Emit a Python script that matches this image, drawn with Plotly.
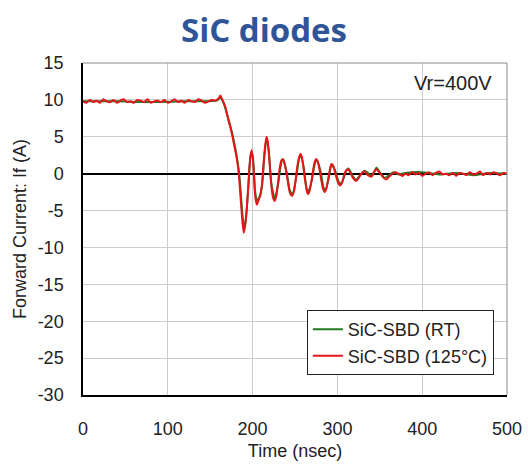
import plotly.graph_objects as go

# ---------------- data ----------------
# Pre-transient flat region, sampled every 4 ns (0..156 ns)
pre_t = list(range(0, 160, 4))
pre_red = [9.8, 9.6, 10.0, 9.7, 9.9, 9.6, 10.1, 9.8, 9.7, 10.0,
           9.6, 9.9, 10.1, 9.7, 9.8, 9.6, 10.0, 9.9, 9.7, 10.1,
           9.6, 9.8, 9.9, 9.7, 10.0, 9.6, 9.8, 10.1, 9.7, 9.9,
           9.6, 10.0, 9.8, 9.7, 10.1, 9.9, 9.6, 9.8, 10.0, 9.9]

# Transient / ringing region (125 degC trace)
osc_t = [160, 162, 164, 166, 168, 170, 172, 174, 176, 178, 180, 182, 184, 186, 188, 189.5,
         191, 193, 195, 197, 199, 201, 203, 205, 207, 209, 211, 213, 215, 216.5, 218, 220,
         222, 224, 226, 228, 230, 232, 234, 236, 238, 240, 242, 244, 246.5, 249, 251, 253,
         255, 256.5, 258, 260, 262, 264, 265.5, 267, 269, 271, 273, 275, 277, 279, 281, 283,
         285, 287, 289, 291, 293, 295, 297, 299, 301, 303.5, 306, 308, 310, 312.5, 315, 318,
         322, 325, 328, 332, 336, 340, 343, 346, 350, 354, 357.5, 361, 365, 369, 373, 377]
osc_red = [10.2, 10.6, 10.1, 9.6, 9.0, 8.0, 7.0, 6.2, 5.2, 4.0, 2.9, 1.6, -0.4, -3.5, -6.5, -8.0,
           -7.2, -5.0, -1.5, 1.8, 3.2, 1.0, -3.0, -4.2, -3.6, -3.0, -1.5, 1.5, 4.0, 5.0, 4.2, 1.5,
           -1.5, -3.2, -3.7, -3.0, -1.2, 0.8, 1.8, 1.9, 1.2, 0.0, -1.4, -2.6, -3.0, -2.3, -0.6, 1.2,
           2.3, 2.7, 2.3, 0.8, -1.0, -2.4, -2.8, -2.4, -1.3, 0.2, 1.5, 2.0, 1.6, 0.5, -0.9, -2.0,
           -2.5, -2.0, -0.8, 0.5, 1.3, 1.1, 0.3, -0.6, -1.3, -1.6, -1.0, -0.2, 0.4, 0.6, 0.2, -0.5,
           -1.0, -0.6, 0.0, 0.3, -0.2, -0.4, 0.2, 0.6, 0.1, -0.5, -0.8, -0.4, 0.0, 0.2, -0.1, -0.3]

# Settled tail, sampled every 4 ns (380..500 ns)
tail_t = list(range(380, 504, 4))
tail_red = [0.0, -0.2, 0.2, -0.1, 0.1, -0.3, 0.0, 0.2, -0.2, 0.1, 0.3, -0.1, 0.0, -0.2, 0.1, -0.3,
            0.1, 0.0, -0.2, 0.2, -0.1, 0.0, 0.3, -0.2, 0.1, -0.1, 0.2, 0.0, -0.2, 0.1, 0.0]

# Room temperature trace (mostly hidden under the red one)
rt_t = [0, 40, 80, 120, 158, 162, 166, 170, 176, 180, 184, 188, 190, 192, 195, 198, 200, 203,
        205, 208, 211, 214, 216.5, 219, 222, 226, 230, 234, 236, 240, 244, 247, 251, 255, 257,
        260, 264, 266, 270, 274, 276, 280, 284, 286, 290, 293, 297, 302, 305, 310, 313, 318,
        322, 327, 332, 338, 341, 346, 350, 356, 360, 366, 372, 380, 400, 420, 440, 460, 480, 500]
rt_if = [9.8, 9.8, 9.7, 9.8, 9.9, 10.3, 9.5, 8.0, 5.4, 3.2, 0.2, -5.5, -7.5, -6.2, -1.8, 2.9,
         2.5, -2.4, -3.6, -3.2, -1.8, 2.5, 4.8, 3.2, -1.2, -3.4, -1.5, 1.6, 2.0, 0.3, -2.3, -2.8,
         -0.8, 2.1, 2.5, 1.0, -2.1, -2.4, -0.8, 1.6, 1.8, 0.4, -2.0, -2.2, -0.5, 1.2, 0.5, -1.2,
         -1.3, 0.3, 0.7, -0.3, -0.8, -0.2, 0.4, -0.1, -0.3, 0.8, 0.2, -0.6, -0.3, 0.2, -0.1, 0.1,
         0.2, -0.1, 0.1, -0.2, 0.1, 0.0]

red_t = pre_t + osc_t + tail_t
red_if = pre_red + osc_red + tail_red

x_ticks = [0, 100, 200, 300, 400, 500]
y_ticks = [15, 10, 5, 0, -5, -10, -15, -20, -25, -30]

# ---------------- figure ----------------
SANS = "Liberation Sans, Arial, sans-serif"
TXT = "#222222"

fig = go.Figure()
fig.add_trace(go.Scatter(x=rt_t, y=rt_if, mode="lines", name="SiC-SBD (RT)",
                         line=dict(color="#1f7a1f", width=2, shape="spline", smoothing=0.6)))
fig.add_trace(go.Scatter(x=red_t, y=red_if, mode="lines", name="SiC-SBD (125\u00b0C)",
                         line=dict(color="#e8141c", width=2, shape="spline", smoothing=0.6)))

fig.update_layout(
    width=528, height=465,
    margin=dict(l=83, r=21, t=63, b=70, autoexpand=False),
    paper_bgcolor="white", plot_bgcolor="white",
    title=dict(text="<b>SiC diodes</b>", x=0.5, xanchor="center", y=0.935, yanchor="middle",
               font=dict(family="Open Sans, sans-serif", size=33, color="#2f5597")),
    font=dict(family=SANS, color=TXT),
    showlegend=True,
    legend=dict(x=0.969, xanchor="right", y=0.06, yanchor="bottom",
                bgcolor="white", bordercolor="#222222", borderwidth=1,
                font=dict(family=SANS, size=18, color=TXT),
                itemwidth=30, tracegroupgap=2),
    annotations=[dict(text="Vr=400V", x=0.97, xref="paper", xanchor="right",
                      y=0.94, yref="paper", yanchor="middle", showarrow=False,
                      font=dict(family=SANS, size=20, color=TXT))],
    shapes=[
        dict(type="line", xref="paper", yref="paper", x0=0, x1=1, y0=1, y1=1,
             line=dict(color="#8a8a8a", width=1)),
        dict(type="line", xref="paper", yref="paper", x0=1, x1=1, y0=0, y1=1,
             line=dict(color="#8a8a8a", width=1)),
    ],
)
fig.update_xaxes(range=[0, 500], tickvals=x_ticks, ticktext=[str(v) for v in x_ticks],
                 showgrid=True, gridcolor="#cccccc", gridwidth=1,
                 showline=True, linecolor="black", linewidth=1.5,
                 zeroline=False, ticks="", ticklabelstandoff=17, automargin=False,
                 tickfont=dict(family=SANS, size=18, color=TXT),
                 title=dict(text="Time (nsec)", standoff=6,
                            font=dict(family=SANS, size=18, color=TXT)))
fig.update_yaxes(range=[-30, 15], tickvals=y_ticks, ticktext=[str(v) for v in y_ticks],
                 showgrid=True, gridcolor="#cccccc", gridwidth=1,
                 showline=True, linecolor="black", linewidth=1.5,
                 zeroline=True, zerolinecolor="black", zerolinewidth=1.5,
                 ticks="", ticklabelstandoff=14, automargin=False,
                 tickfont=dict(family=SANS, size=18, color=TXT),
                 title=dict(text="Forward Current: If (A)", standoff=6,
                            font=dict(family=SANS, size=18, color=TXT)))

fig.write_html("out.html")
